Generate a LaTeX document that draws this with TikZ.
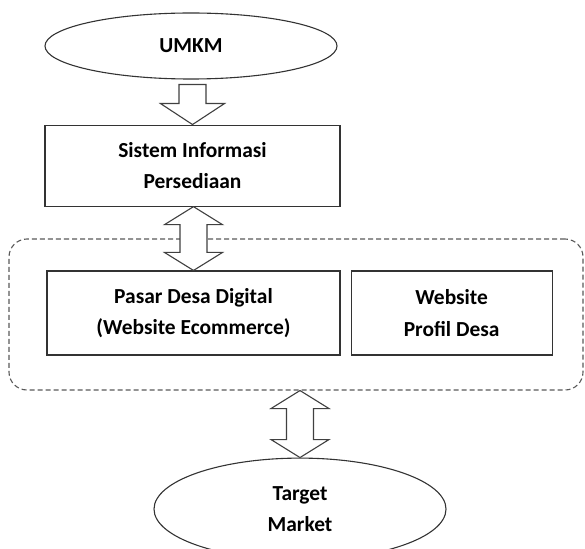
\documentclass[tikz,border=0pt]{standalone}
\usepackage{fontspec}
\setmainfont{Carlito}
\usetikzlibrary{shapes.geometric,positioning,calc}

\tikzset{
  teks/.style={font=\fontsize{21.5}{31.5}\selectfont\bfseries, align=center, text=black},
  blok/.style={teks, draw=black!80, line width=1.1bp, rectangle, inner sep=0pt},
  elips/.style={teks, draw=black!80, line width=1.1bp, ellipse, inner sep=0pt},
  grup/.style={draw=black!65, line width=1.1bp, dash pattern=on 5bp off 3bp, rounded corners=18bp, inner sep=0pt},
  panah/.style={draw=black!75, line width=1.1bp, fill=white, line join=miter},
}

% single block arrow, shaft under #1, tip on #2
\newcommand{\panahturun}[2]{%
  \draw[panah] let \p1=(#1), \p2=(#2) in
    (\x2-13.5bp,\y1-5bp) -- (\x2+13.5bp,\y1-5bp) -- (\x2+13.5bp,\y2+21bp)
    -- (\x2+32bp,\y2+21bp) -- (\x2,\y2) -- (\x2-32bp,\y2+21bp)
    -- (\x2-13.5bp,\y2+21bp) -- cycle;}
% double block arrow, tips on #1 and #2
\newcommand{\panahdua}[2]{%
  \draw[panah] let \p1=(#1), \p2=(#2) in
    (\x2,\y1) -- (\x2+29bp,\y1-18bp) -- (\x2+13.5bp,\y1-18bp)
    -- (\x2+13.5bp,\y2+18bp) -- (\x2+29bp,\y2+18bp) -- (\x2,\y2)
    -- (\x2-29bp,\y2+18bp) -- (\x2-13.5bp,\y2+18bp)
    -- (\x2-13.5bp,\y1-18bp) -- (\x2-29bp,\y1-18bp) -- cycle;}

\begin{document}
\begin{tikzpicture}[x=1bp, y=-1bp]
  \useasboundingbox (0,0) rectangle (585,549);

  \node[elips, minimum width=292bp, minimum height=66bp] (umkm) at (191,46) {UMKM};
  \node[blok, minimum width=295bp, minimum height=81bp, below=45bp of umkm, xshift=1.5bp] (sis)
    {Sistem Informasi\\Persediaan};

  % kotak putus-putus
  \node[grup, minimum width=574bp, minimum height=151bp] (grp) at (296,314.5) {};
  \node[blok, minimum width=293bp, minimum height=84bp] (pasar) at (193.5,313)
    {Pasar Desa Digital\\(Website Ecommerce)};
  \node[blok, minimum width=201bp, minimum height=84bp, right=10bp of pasar] (web)
    {Website\\Profil Desa};

  \node[elips, minimum width=292bp, minimum height=102bp, below=67bp of grp, xshift=4bp] (target)
    {Target\\Market};

  \panahturun{umkm.south}{sis.north}
  \panahdua{sis.south}{pasar.north}
  \panahdua{grp.south}{target.north}
\end{tikzpicture}
\end{document}
